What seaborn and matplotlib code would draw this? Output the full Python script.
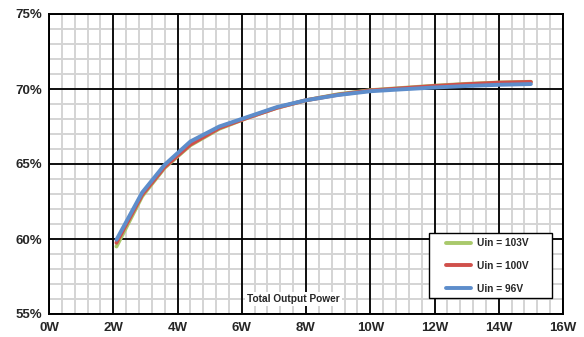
import numpy as np
import pandas as pd
import seaborn as sns
import matplotlib.pyplot as plt
from matplotlib.patches import Rectangle
from matplotlib.ticker import FixedLocator, MultipleLocator, FuncFormatter, NullLocator

# output power (W) and efficiency (%) per input voltage
power = [2.1, 2.9, 3.6, 4.4, 5.3, 6.2, 7.1, 8.0, 9.0, 10.0, 11.0, 12.0, 13.0, 14.0, 15.0]
eff_103 = [59.5, 62.85, 64.75, 66.25, 67.35, 68.1, 68.75, 69.25, 69.65, 69.92, 70.07, 70.22, 70.34, 70.43, 70.48]
eff_100 = [59.75, 62.95, 64.8, 66.3, 67.4, 68.1, 68.75, 69.25, 69.62, 69.9, 70.05, 70.2, 70.32, 70.42, 70.47]
eff_96 = [59.95, 63.1, 64.95, 66.5, 67.5, 68.15, 68.8, 69.25, 69.6, 69.85, 69.98, 70.1, 70.2, 70.28, 70.33]

labels = ["Uin = 103V", "Uin = 100V", "Uin = 96V"]

df = pd.concat([
    pd.DataFrame({"Power": power, "Eff": e, "Uin": lab})
    for e, lab in zip([eff_103, eff_100, eff_96], labels)
])

palette = {
    "Uin = 103V": "#a9c96b",  # green
    "Uin = 100V": "#d0504b",  # red
    "Uin = 96V": "#5d8dcb",  # blue
}

sns.set_style("white")
plt.rcParams["font.family"] = ["Liberation Sans", "DejaVu Sans"]
plt.rcParams["font.weight"] = "bold"

fig = plt.figure(figsize=(5.84, 3.37), dpi=100)
rect = [49 / 584, 1 - 314 / 337, 514 / 584, 300 / 337]

# background axes: only the light minor grid, so the black grid sits on top
bg = fig.add_axes(rect, zorder=0)
ax = fig.add_axes(rect, zorder=1)
ax.patch.set_visible(False)

sns.lineplot(data=df, x="Power", y="Eff", hue="Uin", hue_order=labels,
             palette=palette, linewidth=2.8, ax=ax)

for a in (ax, bg):
    a.set_xlim(0, 16)
    a.set_ylim(55, 75)

bg.xaxis.set_major_locator(MultipleLocator(0.4))
bg.yaxis.set_major_locator(MultipleLocator(1))
bg.grid(color="#d4d4d4", linewidth=1.4)
bg.tick_params(length=0, labelbottom=False, labelleft=False)
for s in bg.spines.values():
    s.set_visible(False)

ax.xaxis.set_major_locator(FixedLocator(range(0, 17, 2)))
ax.yaxis.set_major_locator(FixedLocator(range(55, 76, 5)))
ax.xaxis.set_minor_locator(NullLocator())
ax.yaxis.set_minor_locator(NullLocator())
ax.xaxis.set_major_formatter(FuncFormatter(lambda v, p: f"{v:.0f}W"))
ax.yaxis.set_major_formatter(FuncFormatter(lambda v, p: f"{v:.0f}%"))

ax.grid(which="major", color="black", linewidth=1.3)
ax.set_axisbelow(True)
ax.tick_params(which="both", length=0)
ax.tick_params(axis="x", pad=6, labelsize=9.5)
ax.tick_params(axis="y", pad=5, labelsize=9.5)
for lab in ax.get_xticklabels() + ax.get_yticklabels():
    lab.set_fontweight("bold")
for s in ax.spines.values():
    s.set_color("black")
    s.set_linewidth(1.4)

ax.set_xlabel("")
ax.set_ylabel("")
ax.text(7.6, 56.0, "Total Output Power", ha="center", va="center", fontsize=7.3,
        fontweight="bold", bbox=dict(facecolor="white", edgecolor="none", pad=1.5))

# legend box drawn separately so the padding can match the original
ax.add_patch(Rectangle((429 / 584, 1 - 298 / 337), 123 / 584, 65 / 337,
                       transform=fig.transFigure, facecolor="white",
                       edgecolor="black", linewidth=1.0, clip_on=False, zorder=4))
leg = ax.legend(loc="center left", bbox_to_anchor=(446 / 584, 1 - 266 / 337),
                bbox_transform=fig.transFigure, borderaxespad=0, borderpad=0,
                frameon=False, fontsize=7.3, labelspacing=1.25,
                handlelength=2.5, handletextpad=0.55)
leg.set_zorder(5)
for t in leg.get_texts():
    t.set_fontweight("bold")

fig.savefig("out.png", dpi=100)
